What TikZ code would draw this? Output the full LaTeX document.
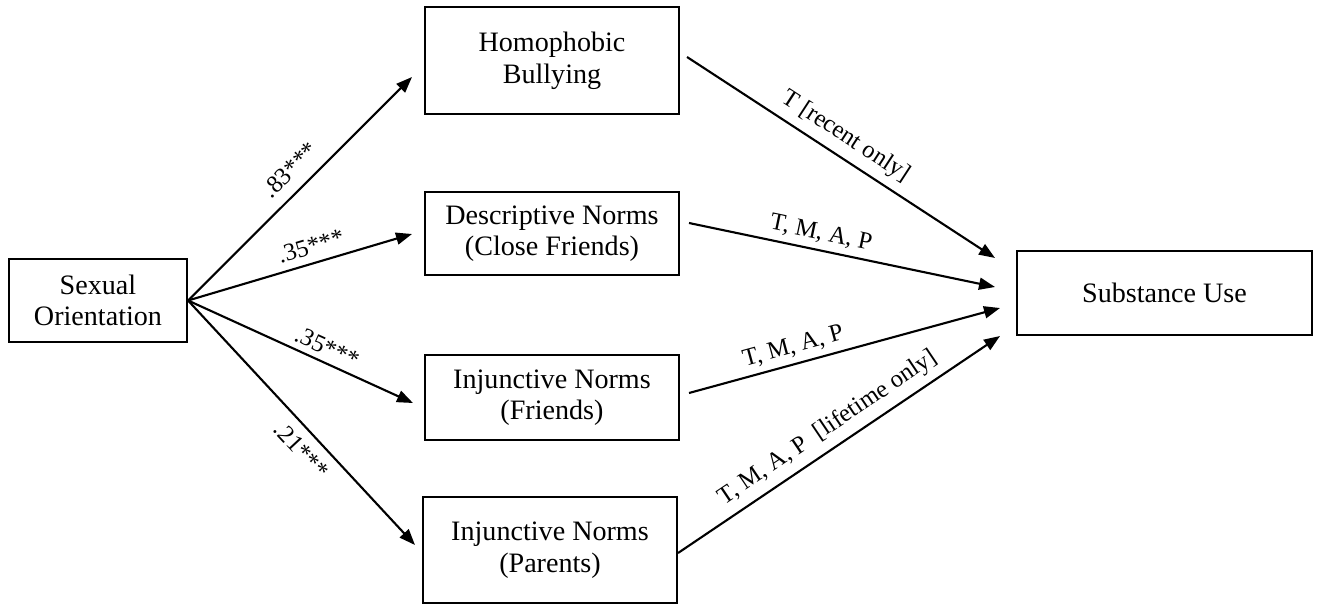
\documentclass[tikz,border=0pt]{standalone}
\usepackage{fontspec}
\setmainfont{Liberation Serif}
\usetikzlibrary{arrows.meta}

\begin{document}
\begin{tikzpicture}[x=0.02cm, y=-0.02cm,
    box/.style={draw, line width=1.2pt, align=center, inner sep=0pt, font=\fontsize{16}{18}\selectfont},
    path/.style={line width=1.2pt, -{Triangle[length=0.32cm, width=0.24cm]}},
    coef/.style={sloped, font=\fontsize{14}{16}\selectfont}]
    \useasboundingbox (0,0) rectangle (1318,606);
    \node[box, minimum width=3.56cm, minimum height=1.66cm] (sexor) at (98,300.5) {Sexual\\Orientation};
    \node[box, minimum width=5.08cm, minimum height=2.14cm] (bully) at (552,60.5) {Homophobic\\Bullying};
    \node[box, minimum width=5.08cm, minimum height=1.66cm] (descn) at (552,233.5) {Descriptive Norms\\(Close Friends)};
    \node[box, minimum width=5.08cm, minimum height=1.70cm] (injfr) at (552,397.5) {Injunctive Norms\\(Friends)};
    \node[box, minimum width=5.08cm, minimum height=2.12cm] (injpa) at (550,550) {Injunctive Norms\\(Parents)};
    \node[box, minimum width=5.90cm, minimum height=1.68cm] (subst) at (1164.5,293) {Substance Use};
    % arrow tips
    \coordinate (tb) at (412,77);
    \coordinate (td) at (412,234);
    \coordinate (tf) at (413,403);
    \coordinate (tp) at (415,545);
    \coordinate (s1) at (995,258);
    \coordinate (s2) at (995,287);
    \coordinate (s3) at (1000,308);
    \coordinate (s4) at (1000,336);
    \draw[path] (sexor.east) -- node[coef, above=3pt, pos=0.52] {.83***} (tb);
    \draw[path] (sexor.east) -- node[coef, above=1pt, pos=0.57] {.35***} (td);
    \draw[path] (sexor.east) -- node[coef, above=0pt, pos=0.59] {.35***} (tf);
    \draw[path] (sexor.east) -- node[coef, below=2pt, pos=0.56] {.21***} (tp);
    \draw[path] ([shift={(7,-3.5)}]bully.east) -- node[coef, above=1pt, pos=0.48] {T [recent only]} (s1);
    \draw[path] ([shift={(9,-10.5)}]descn.east) -- node[coef, above=0pt, pos=0.42] {T, M, A, P} (s2);
    \draw[path] ([shift={(9,-4.5)}]injfr.east) -- node[coef, above=0pt, pos=0.35] {T, M, A, P} (s3);
    \draw[path] ([shift={(0,3)}]injpa.east) -- node[coef, above=1pt, pos=0.5] {T, M, A, P\ \ [lifetime only]} (s4);
\end{tikzpicture}
\end{document}
